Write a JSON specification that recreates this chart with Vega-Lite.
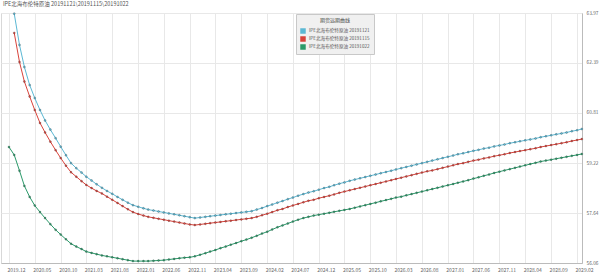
{
  "$schema": "https://vega.github.io/schema/vega-lite/v6.json",
  "width": 581,
  "height": 250,
  "autosize": {"type": "none"},
  "padding": {"left": 1, "top": 13, "right": 18, "bottom": 12},
  "background": "white",
  "config": {
    "font": "Noto Sans CJK SC",
    "view": {"stroke": "#d8d8d8", "strokeWidth": 1},
    "axis": {"labelFont": "Noto Sans CJK SC", "labelColor": "#666", "labelFontSize": 5, "gridColor": "#e8e8e8", "gridWidth": 1, "domainColor": "#bbbbbb", "ticks": false, "title": null}
  },
  "title": {"text": "IPE北海布伦特原油 20191121\\20191115\\20191022", "anchor": "start", "fontSize": 5.5, "font": "Noto Sans CJK SC", "fontWeight": "normal", "color": "#555", "offset": 3, "dx": 2},
  "data": {"values": [
    {"d": "2019-12", "20191121": null, "20191115": null, "20191022": 59.73},
    {"d": "2020-01", "20191121": 63.95, "20191115": 63.34, "20191022": 59.48},
    {"d": "2020-02", "20191121": 62.96, "20191115": 62.42, "20191022": 58.98},
    {"d": "2020-03", "20191121": 62.26, "20191115": 61.80, "20191022": 58.50},
    {"d": "2020-04", "20191121": 61.69, "20191115": 61.33, "20191022": 58.15},
    {"d": "2020-05", "20191121": 61.28, "20191115": 60.90, "20191022": 57.88},
    {"d": "2020-06", "20191121": 60.90, "20191115": 60.49, "20191022": 57.67},
    {"d": "2020-07", "20191121": 60.57, "20191115": 60.19, "20191022": 57.48},
    {"d": "2020-08", "20191121": 60.28, "20191115": 59.90, "20191022": 57.29},
    {"d": "2020-09", "20191121": 60.01, "20191115": 59.63, "20191022": 57.11},
    {"d": "2020-10", "20191121": 59.74, "20191115": 59.38, "20191022": 56.96},
    {"d": "2020-11", "20191121": 59.47, "20191115": 59.14, "20191022": 56.81},
    {"d": "2020-12", "20191121": 59.22, "20191115": 58.93, "20191022": 56.67},
    {"d": "2021-01", "20191121": 59.06, "20191115": 58.79, "20191022": 56.58},
    {"d": "2021-02", "20191121": 58.92, "20191115": 58.65, "20191022": 56.50},
    {"d": "2021-03", "20191121": 58.79, "20191115": 58.53, "20191022": 56.42},
    {"d": "2021-04", "20191121": 58.67, "20191115": 58.43, "20191022": 56.38},
    {"d": "2021-05", "20191121": 58.55, "20191115": 58.34, "20191022": 56.34},
    {"d": "2021-06", "20191121": 58.44, "20191115": 58.26, "20191022": 56.30},
    {"d": "2021-07", "20191121": 58.34, "20191115": 58.16, "20191022": 56.27},
    {"d": "2021-08", "20191121": 58.25, "20191115": 58.06, "20191022": 56.24},
    {"d": "2021-09", "20191121": 58.15, "20191115": 57.96, "20191022": 56.21},
    {"d": "2021-10", "20191121": 58.06, "20191115": 57.86, "20191022": 56.18},
    {"d": "2021-11", "20191121": 57.97, "20191115": 57.76, "20191022": 56.15},
    {"d": "2021-12", "20191121": 57.89, "20191115": 57.67, "20191022": 56.12},
    {"d": "2022-01", "20191121": 57.84, "20191115": 57.61, "20191022": 56.12},
    {"d": "2022-02", "20191121": 57.79, "20191115": 57.56, "20191022": 56.12},
    {"d": "2022-03", "20191121": 57.75, "20191115": 57.52, "20191022": 56.12},
    {"d": "2022-04", "20191121": 57.72, "20191115": 57.49, "20191022": 56.13},
    {"d": "2022-05", "20191121": 57.69, "20191115": 57.46, "20191022": 56.14},
    {"d": "2022-06", "20191121": 57.66, "20191115": 57.43, "20191022": 56.15},
    {"d": "2022-07", "20191121": 57.63, "20191115": 57.40, "20191022": 56.17},
    {"d": "2022-08", "20191121": 57.60, "20191115": 57.37, "20191022": 56.19},
    {"d": "2022-09", "20191121": 57.57, "20191115": 57.34, "20191022": 56.21},
    {"d": "2022-10", "20191121": 57.54, "20191115": 57.31, "20191022": 56.23},
    {"d": "2022-11", "20191121": 57.51, "20191115": 57.28, "20191022": 56.24},
    {"d": "2022-12", "20191121": 57.48, "20191115": 57.26, "20191022": 56.27},
    {"d": "2023-01", "20191121": 57.50, "20191115": 57.28, "20191022": 56.32},
    {"d": "2023-02", "20191121": 57.52, "20191115": 57.30, "20191022": 56.37},
    {"d": "2023-03", "20191121": 57.54, "20191115": 57.32, "20191022": 56.42},
    {"d": "2023-04", "20191121": 57.56, "20191115": 57.34, "20191022": 56.47},
    {"d": "2023-05", "20191121": 57.58, "20191115": 57.36, "20191022": 56.53},
    {"d": "2023-06", "20191121": 57.60, "20191115": 57.38, "20191022": 56.58},
    {"d": "2023-07", "20191121": 57.62, "20191115": 57.40, "20191022": 56.64},
    {"d": "2023-08", "20191121": 57.64, "20191115": 57.42, "20191022": 56.69},
    {"d": "2023-09", "20191121": 57.66, "20191115": 57.44, "20191022": 56.75},
    {"d": "2023-10", "20191121": 57.68, "20191115": 57.46, "20191022": 56.80},
    {"d": "2023-11", "20191121": 57.70, "20191115": 57.48, "20191022": 56.86},
    {"d": "2023-12", "20191121": 57.75, "20191115": 57.52, "20191022": 56.92},
    {"d": "2024-01", "20191121": 57.80, "20191115": 57.57, "20191022": 56.99},
    {"d": "2024-02", "20191121": 57.86, "20191115": 57.62, "20191022": 57.05},
    {"d": "2024-03", "20191121": 57.91, "20191115": 57.67, "20191022": 57.12},
    {"d": "2024-04", "20191121": 57.97, "20191115": 57.73, "20191022": 57.19},
    {"d": "2024-05", "20191121": 58.02, "20191115": 57.77, "20191022": 57.25},
    {"d": "2024-06", "20191121": 58.08, "20191115": 57.83, "20191022": 57.31},
    {"d": "2024-07", "20191121": 58.13, "20191115": 57.88, "20191022": 57.37},
    {"d": "2024-08", "20191121": 58.19, "20191115": 57.93, "20191022": 57.43},
    {"d": "2024-09", "20191121": 58.24, "20191115": 57.98, "20191022": 57.48},
    {"d": "2024-10", "20191121": 58.29, "20191115": 58.03, "20191022": 57.52},
    {"d": "2024-11", "20191121": 58.33, "20191115": 58.06, "20191022": 57.56},
    {"d": "2024-12", "20191121": 58.38, "20191115": 58.11, "20191022": 57.59},
    {"d": "2025-01", "20191121": 58.43, "20191115": 58.15, "20191022": 57.62},
    {"d": "2025-02", "20191121": 58.47, "20191115": 58.19, "20191022": 57.65},
    {"d": "2025-03", "20191121": 58.52, "20191115": 58.23, "20191022": 57.68},
    {"d": "2025-04", "20191121": 58.57, "20191115": 58.28, "20191022": 57.71},
    {"d": "2025-05", "20191121": 58.61, "20191115": 58.32, "20191022": 57.74},
    {"d": "2025-06", "20191121": 58.66, "20191115": 58.36, "20191022": 57.77},
    {"d": "2025-07", "20191121": 58.70, "20191115": 58.40, "20191022": 57.81},
    {"d": "2025-08", "20191121": 58.74, "20191115": 58.44, "20191022": 57.85},
    {"d": "2025-09", "20191121": 58.78, "20191115": 58.48, "20191022": 57.89},
    {"d": "2025-10", "20191121": 58.82, "20191115": 58.52, "20191022": 57.93},
    {"d": "2025-11", "20191121": 58.86, "20191115": 58.56, "20191022": 57.97},
    {"d": "2025-12", "20191121": 58.90, "20191115": 58.60, "20191022": 58.01},
    {"d": "2026-01", "20191121": 58.94, "20191115": 58.64, "20191022": 58.05},
    {"d": "2026-02", "20191121": 58.98, "20191115": 58.68, "20191022": 58.09},
    {"d": "2026-03", "20191121": 59.02, "20191115": 58.72, "20191022": 58.13},
    {"d": "2026-04", "20191121": 59.06, "20191115": 58.76, "20191022": 58.16},
    {"d": "2026-05", "20191121": 59.10, "20191115": 58.80, "20191022": 58.20},
    {"d": "2026-06", "20191121": 59.14, "20191115": 58.84, "20191022": 58.24},
    {"d": "2026-07", "20191121": 59.18, "20191115": 58.88, "20191022": 58.28},
    {"d": "2026-08", "20191121": 59.22, "20191115": 58.92, "20191022": 58.32},
    {"d": "2026-09", "20191121": 59.26, "20191115": 58.96, "20191022": 58.36},
    {"d": "2026-10", "20191121": 59.30, "20191115": 58.99, "20191022": 58.40},
    {"d": "2026-11", "20191121": 59.34, "20191115": 59.03, "20191022": 58.44},
    {"d": "2026-12", "20191121": 59.38, "20191115": 59.07, "20191022": 58.48},
    {"d": "2027-01", "20191121": 59.42, "20191115": 59.11, "20191022": 58.52},
    {"d": "2027-02", "20191121": 59.46, "20191115": 59.15, "20191022": 58.56},
    {"d": "2027-03", "20191121": 59.50, "20191115": 59.19, "20191022": 58.60},
    {"d": "2027-04", "20191121": 59.53, "20191115": 59.22, "20191022": 58.64},
    {"d": "2027-05", "20191121": 59.57, "20191115": 59.26, "20191022": 58.68},
    {"d": "2027-06", "20191121": 59.61, "20191115": 59.30, "20191022": 58.73},
    {"d": "2027-07", "20191121": 59.64, "20191115": 59.33, "20191022": 58.77},
    {"d": "2027-08", "20191121": 59.68, "20191115": 59.37, "20191022": 58.82},
    {"d": "2027-09", "20191121": 59.71, "20191115": 59.40, "20191022": 58.86},
    {"d": "2027-10", "20191121": 59.75, "20191115": 59.44, "20191022": 58.91},
    {"d": "2027-11", "20191121": 59.78, "20191115": 59.47, "20191022": 58.95},
    {"d": "2027-12", "20191121": 59.81, "20191115": 59.50, "20191022": 58.99},
    {"d": "2028-01", "20191121": 59.85, "20191115": 59.54, "20191022": 59.03},
    {"d": "2028-02", "20191121": 59.88, "20191115": 59.57, "20191022": 59.07},
    {"d": "2028-03", "20191121": 59.91, "20191115": 59.60, "20191022": 59.11},
    {"d": "2028-04", "20191121": 59.94, "20191115": 59.63, "20191022": 59.15},
    {"d": "2028-05", "20191121": 59.97, "20191115": 59.66, "20191022": 59.19},
    {"d": "2028-06", "20191121": 60.00, "20191115": 59.69, "20191022": 59.23},
    {"d": "2028-07", "20191121": 60.04, "20191115": 59.73, "20191022": 59.27},
    {"d": "2028-08", "20191121": 60.07, "20191115": 59.76, "20191022": 59.30},
    {"d": "2028-09", "20191121": 60.10, "20191115": 59.79, "20191022": 59.33},
    {"d": "2028-10", "20191121": 60.13, "20191115": 59.82, "20191022": 59.36},
    {"d": "2028-11", "20191121": 60.16, "20191115": 59.85, "20191022": 59.39},
    {"d": "2028-12", "20191121": 60.19, "20191115": 59.88, "20191022": 59.42},
    {"d": "2029-01", "20191121": 60.23, "20191115": 59.92, "20191022": 59.45},
    {"d": "2029-02", "20191121": 60.26, "20191115": 59.95, "20191022": 59.48},
    {"d": "2029-03", "20191121": 60.30, "20191115": 59.98, "20191022": 59.51}
  ]},
  "transform": [
    {"fold": ["20191121", "20191115", "20191022"], "as": ["series", "value"]},
    {"filter": "isValid(datum.value)"}
  ],
  "encoding": {
    "x": {
      "field": "d", "type": "temporal",
      "scale": {"type": "utc", "domain": [{"year": 2019, "month": 10, "date": 15, "utc": true}, {"year": 2029, "month": 3, "date": 2, "utc": true}]},
      "axis": {
        "labelExpr": "utcFormat(datum.value, '%Y.%m')", "labelOffset": 7, "labelPadding": 4, "labelFlush": false, "labelOverlap": false,
        "values": [
          {"year": 2019, "month": 12, "utc": true}, {"year": 2020, "month": 5, "utc": true}, {"year": 2020, "month": 10, "utc": true},
          {"year": 2021, "month": 3, "utc": true}, {"year": 2021, "month": 8, "utc": true}, {"year": 2022, "month": 1, "utc": true},
          {"year": 2022, "month": 6, "utc": true}, {"year": 2022, "month": 11, "utc": true}, {"year": 2023, "month": 4, "utc": true},
          {"year": 2023, "month": 9, "utc": true}, {"year": 2024, "month": 2, "utc": true}, {"year": 2024, "month": 7, "utc": true},
          {"year": 2024, "month": 12, "utc": true}, {"year": 2025, "month": 5, "utc": true}, {"year": 2025, "month": 10, "utc": true},
          {"year": 2026, "month": 3, "utc": true}, {"year": 2026, "month": 8, "utc": true}, {"year": 2027, "month": 1, "utc": true},
          {"year": 2027, "month": 6, "utc": true}, {"year": 2027, "month": 11, "utc": true}, {"year": 2028, "month": 4, "utc": true},
          {"year": 2028, "month": 9, "utc": true}, {"year": 2029, "month": 2, "utc": true}
        ]
      }
    },
    "y": {
      "field": "value", "type": "quantitative",
      "scale": {"domain": [56.06, 63.97], "zero": false, "nice": false},
      "axis": {"orient": "right", "values": [56.06, 57.64, 59.22, 60.81, 62.39, 63.97], "format": ".2f", "labelPadding": 4, "labelFontSize": 4.8}
    },
    "color": {
      "field": "series", "type": "nominal",
      "scale": {"domain": ["20191121", "20191115", "20191022"], "range": ["#5bb8d4", "#d9433b", "#2a9a6a"]},
      "legend": {
        "title": "期货远期曲线", "orient": "none", "legendX": 295, "legendY": 1,
        "labelExpr": "'IPE北海布伦特原油 ' + datum.label",
        "fillColor": "#f0f0f0", "strokeColor": "#c8c8c8", "padding": 4,
        "titleFontSize": 5, "titleFont": "Noto Sans CJK SC", "titleFontWeight": "normal", "titleColor": "#444", "titleAnchor": "middle",
        "labelFontSize": 4.6, "labelFont": "Noto Sans CJK SC", "labelColor": "#555",
        "symbolType": "square", "symbolSize": 30, "symbolStrokeWidth": 0, "rowPadding": 2, "labelOffset": 3
      }
    }
  },
  "layer": [
    {"mark": {"type": "line", "strokeWidth": 1}},
    {"mark": {"type": "point", "filled": true, "size": 4, "opacity": 1, "stroke": "#333", "strokeWidth": 0.4, "strokeOpacity": 0.7}}
  ]
}
